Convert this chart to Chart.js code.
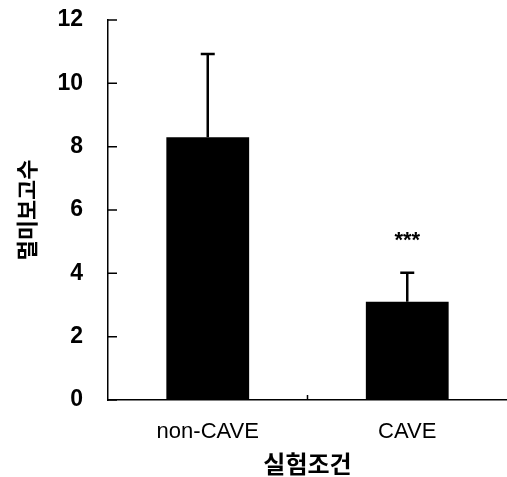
<!DOCTYPE html>
<html>
<head>
<meta charset="utf-8">
<script src="https://cdn.jsdelivr.net/npm/chart.js@4.4.1/dist/chart.umd.min.js"></script>
<style>
  html, body { margin: 0; padding: 0; background: #fff; }
  #wrap { width: 507px; height: 477px; }
</style>
</head>
<body>
<div id="wrap"><canvas id="chart" width="507" height="477"></canvas></div>
<script>
// 데이터
const categories = ['non-CAVE', 'CAVE'];
const means = [8.3, 3.1];
const errors = [2.63, 0.92];
const marks = ['', '***'];
const yMin = 0, yMax = 12, yStep = 2;

// 오차막대 + 유의 표시
const errorBarPlugin = {
    id: 'errorBars',
    afterDatasetsDraw(chart) {
        const ctx = chart.ctx;
        const x = chart.scales.x, y = chart.scales.y;
        ctx.save();
        ctx.strokeStyle = '#000';
        ctx.lineWidth = 2.5;
        means.forEach((m, i) => {
            const px = x.getPixelForValue(i);
            const top = y.getPixelForValue(m + errors[i]);
            const base = y.getPixelForValue(m);
            ctx.beginPath();
            ctx.moveTo(px, base);
            ctx.lineTo(px, top);
            ctx.moveTo(px - 7, top);
            ctx.lineTo(px + 7, top);
            ctx.stroke();
            if (marks[i]) {
                ctx.fillStyle = '#000';
                ctx.font = 'bold 22px "Liberation Sans", Arial';
                ctx.textAlign = 'center';
                ctx.textBaseline = 'middle';
                ctx.fillText(marks[i], px, top - 32);
            }
        });
        ctx.restore();
    }
};

// 안쪽 눈금
const innerTicks = {
    id: 'innerTicks',
    afterDraw(chart) {
        const ctx = chart.ctx;
        const x = chart.scales.x, y = chart.scales.y;
        const a = chart.chartArea;
        ctx.save();
        ctx.strokeStyle = '#000';
        ctx.lineWidth = 1.5;
        ctx.beginPath();
        y.ticks.forEach(t => {
            const py = y.getPixelForValue(t.value);
            ctx.moveTo(a.left, py);
            ctx.lineTo(a.left + 9, py);
        });
        const mid = (x.getPixelForValue(0) + x.getPixelForValue(1)) / 2;
        ctx.moveTo(mid, a.bottom);
        ctx.lineTo(mid, a.bottom - 5);
        ctx.stroke();
        ctx.restore();
    }
};

new Chart(document.getElementById('chart').getContext('2d'), {
    type: 'bar',
    data: {
        labels: categories,
        datasets: [{
            data: means,
            backgroundColor: '#000',
            borderWidth: 0,
            categoryPercentage: 1,
            barPercentage: 0.415
        }]
    },
    options: {
        responsive: false,
        animation: false,
        layout: { padding: { top: 20, right: 0, left: 0, bottom: 0 } },
        plugins: { legend: { display: false }, tooltip: { enabled: false } },
        scales: {
            x: {
                afterFit(s) { s.height = 77; s.paddingLeft = 0; s.paddingRight = 0; },
                grid: { display: false, drawTicks: false },
                border: { color: '#000', width: 1.5 },
                ticks: {
                    color: '#000',
                    padding: 19,
                    font: { family: '"Liberation Sans", Arial', size: 22 }
                },
                title: {
                    display: true,
                    text: '실험조건',
                    color: '#000',
                    padding: { top: 0, bottom: 1 },
                    font: { family: '"Noto Sans CJK KR"', size: 24, weight: 'bold', lineHeight: 1 }
                }
            },
            y: {
                min: yMin,
                max: yMax,
                afterFit(s) { s.width = 108; s.paddingTop = 0; s.paddingBottom = 0; },
                grid: { display: false, drawTicks: false },
                border: { color: '#000', width: 1.5 },
                ticks: {
                    stepSize: yStep,
                    color: '#000',
                    padding: 25,
                    font: { family: '"Liberation Sans", Arial', size: 23, weight: 'bold' }
                },
                title: {
                    display: true,
                    text: '멀미보고수',
                    color: '#000',
                    padding: { top: 13, bottom: 0 },
                    font: { family: '"Noto Sans CJK KR"', size: 22, weight: 'bold' }
                }
            }
        }
    },
    plugins: [errorBarPlugin, innerTicks]
});
</script>
</body>
</html>
